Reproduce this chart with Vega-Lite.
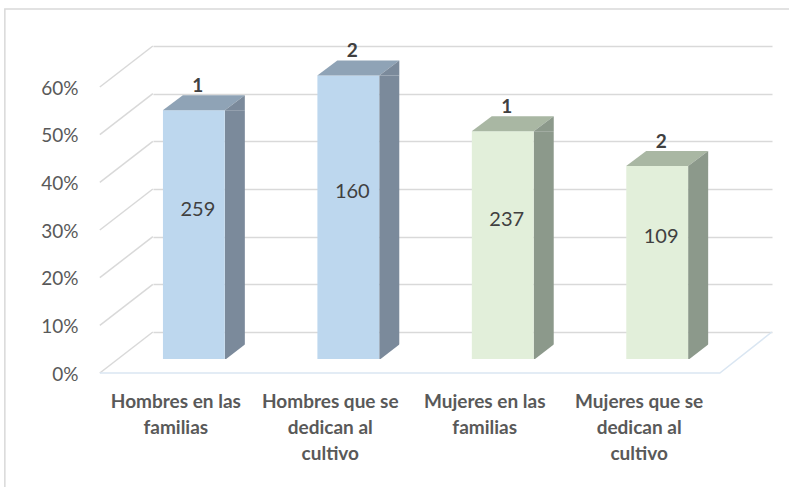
{
  "$schema": "https://vega.github.io/schema/vega-lite/v6.json",
  "width": 619,
  "height": 286,
  "autosize": "none",
  "padding": {"left": 153, "top": 73, "right": 17, "bottom": 128},
  "background": "white",
  "config": {"view": {"stroke": null}, "font": "Lato"},
  "datasets": {
    "bars": [
      {"categoria": "Hombres en las familias", "grupo": "Hombres", "orden": "1", "porcentaje": 0.522, "n": 259},
      {"categoria": "Hombres que se dedican al cultivo", "grupo": "Hombres", "orden": "2", "porcentaje": 0.595, "n": 160},
      {"categoria": "Mujeres en las familias", "grupo": "Mujeres", "orden": "1", "porcentaje": 0.478, "n": 237},
      {"categoria": "Mujeres que se dedican al cultivo", "grupo": "Mujeres", "orden": "2", "porcentaje": 0.405, "n": 109}
    ],
    "ticks": [{"t": 0}, {"t": 0.1}, {"t": 0.2}, {"t": 0.3}, {"t": 0.4}, {"t": 0.5}, {"t": 0.6}]
  },
  "layer": [
    {
      "data": {"name": "ticks"},
      "mark": {"type": "point", "shape": "M -1.88 0.28 L -0.82 -0.54", "size": 10000, "filled": false, "opacity": 1, "strokeWidth": 1.5, "color": "#d9d9d9"},
      "encoding": {
        "x": {"datum": "Hombres en las familias", "type": "nominal"},
        "y": {"field": "t", "type": "quantitative"}
      }
    },
    {
      "data": {"name": "ticks"},
      "transform": [{"filter": "datum.t == 0"}],
      "mark": {"type": "point", "shape": "M -1.88 0.28 L 10.52 0.28 L 11.56 -0.54", "size": 10000, "filled": false, "opacity": 1, "strokeWidth": 1.5, "color": "#dae6f2"},
      "encoding": {
        "x": {"datum": "Hombres en las familias", "type": "nominal"},
        "y": {"field": "t", "type": "quantitative"}
      }
    },
    {
      "data": {"name": "ticks"},
      "transform": [{"filter": "datum.t == 0"}],
      "mark": {"type": "point", "shape": "M -3.78 2.6 L -3.78 -7.0 L 11.95 -7.0", "size": 10000, "filled": false, "opacity": 1, "strokeWidth": 1.5, "color": "#d9d9d9"},
      "encoding": {
        "x": {"datum": "Hombres en las familias", "type": "nominal"},
        "y": {"field": "t", "type": "quantitative"}
      }
    },
    {
      "data": {"name": "bars"},
      "mark": {"type": "bar", "width": 20, "xOffset": 41},
      "encoding": {
        "x": {"field": "categoria", "type": "nominal", "sort": null},
        "y": {"field": "porcentaje", "type": "quantitative"},
        "color": {"field": "grupo", "type": "nominal", "scale": {"domain": ["Hombres", "Mujeres"], "range": ["#7b8a9b", "#8c998b"]}, "legend": null}
      }
    },
    {
      "data": {"name": "bars"},
      "mark": {"type": "bar"},
      "encoding": {
        "x": {
          "field": "categoria", "type": "nominal", "sort": null,
          "scale": {"paddingInner": 0.6, "paddingOuter": 0.304, "align": 0.106},
          "axis": {
            "title": null, "orient": "bottom", "offset": 14, "domain": false, "ticks": false, "grid": false,
            "labelPadding": 28, "labelOffset": -18, "labelFontSize": 19, "labelFontWeight": "bold",
            "labelColor": "#595959", "labelLineHeight": 26, "labelAngle": 0, "labelAlign": "center", "labelFont": "Lato", "labelLimit": 300,
            "labelExpr": "datum.value == 'Hombres en las familias' ? ['Hombres en las','familias'] : datum.value == 'Hombres que se dedican al cultivo' ? ['Hombres que se','dedican al','cultivo'] : datum.value == 'Mujeres en las familias' ? ['Mujeres en las','familias'] : ['Mujeres que se','dedican al','cultivo']"
          }
        },
        "y": {
          "field": "porcentaje", "type": "quantitative",
          "scale": {"domain": [0, 0.6], "nice": false, "zero": true},
          "axis": {
            "title": null, "format": "%", "values": [0, 0.1, 0.2, 0.3, 0.4, 0.5, 0.6],
            "tickOffset": -27, "labelOffset": 42, "ticks": false, "domain": false, "labelPadding": 75,
            "labelFontSize": 19, "labelColor": "#595959", "labelFont": "Lato",
            "grid": true, "gridColor": "#d9d9d9", "gridWidth": 1.5
          }
        },
        "color": {"field": "grupo", "type": "nominal", "scale": {"domain": ["Hombres", "Mujeres"], "range": ["#bdd7ee", "#e2efda"]}, "legend": null}
      }
    },
    {
      "data": {"name": "bars"},
      "mark": {"type": "point", "shape": "M -0.62 0 L 0.62 0 L 1.02 -0.3 L -0.22 -0.3 Z", "size": 10000, "filled": true, "opacity": 1, "strokeWidth": 0},
      "encoding": {
        "x": {"field": "categoria", "type": "nominal", "sort": null},
        "y": {"field": "porcentaje", "type": "quantitative"},
        "color": {"field": "grupo", "type": "nominal", "scale": {"domain": ["Hombres", "Mujeres"], "range": ["#8fa3b6", "#a9b7a3"]}, "legend": null}
      }
    },
    {
      "data": {"name": "bars"},
      "mark": {"type": "point", "shape": "M 0.62 0 L 1.02 -0.3 L 1.02 0 Z", "size": 10000, "filled": true, "opacity": 1, "strokeWidth": 0},
      "encoding": {
        "x": {"field": "categoria", "type": "nominal", "sort": null},
        "y": {"field": "porcentaje", "type": "quantitative"},
        "color": {"field": "grupo", "type": "nominal", "scale": {"domain": ["Hombres", "Mujeres"], "range": ["#7b8a9b", "#8c998b"]}, "legend": null}
      }
    },
    {
      "data": {"name": "bars"},
      "mark": {"type": "point", "shape": "M 0.62 0.02 L 1.06 0.02 L 1.06 -0.32 Z", "size": 10000, "filled": true, "opacity": 1, "strokeWidth": 0, "color": "white"},
      "encoding": {
        "x": {"field": "categoria", "type": "nominal", "sort": null},
        "y": {"datum": 0, "type": "quantitative"}
      }
    },
    {
      "data": {"name": "bars"},
      "mark": {"type": "text", "dy": -18, "dx": 4, "baseline": "alphabetic", "fontSize": 19, "fontWeight": "bold", "color": "#404040", "font": "Lato"},
      "encoding": {
        "x": {"field": "categoria", "type": "nominal", "sort": null},
        "y": {"field": "porcentaje", "type": "quantitative"},
        "text": {"field": "orden", "type": "nominal"}
      }
    },
    {
      "data": {"name": "bars"},
      "transform": [{"calculate": "datum.porcentaje / 2", "as": "medio"}],
      "mark": {"type": "text", "dy": -25, "dx": 4, "baseline": "middle", "fontSize": 20, "color": "#404040", "font": "Lato"},
      "encoding": {
        "x": {"field": "categoria", "type": "nominal", "sort": null},
        "y": {"field": "medio", "type": "quantitative"},
        "text": {"field": "n", "type": "quantitative"}
      }
    }
  ],
  "resolve": {"scale": {"color": "independent"}}
}
